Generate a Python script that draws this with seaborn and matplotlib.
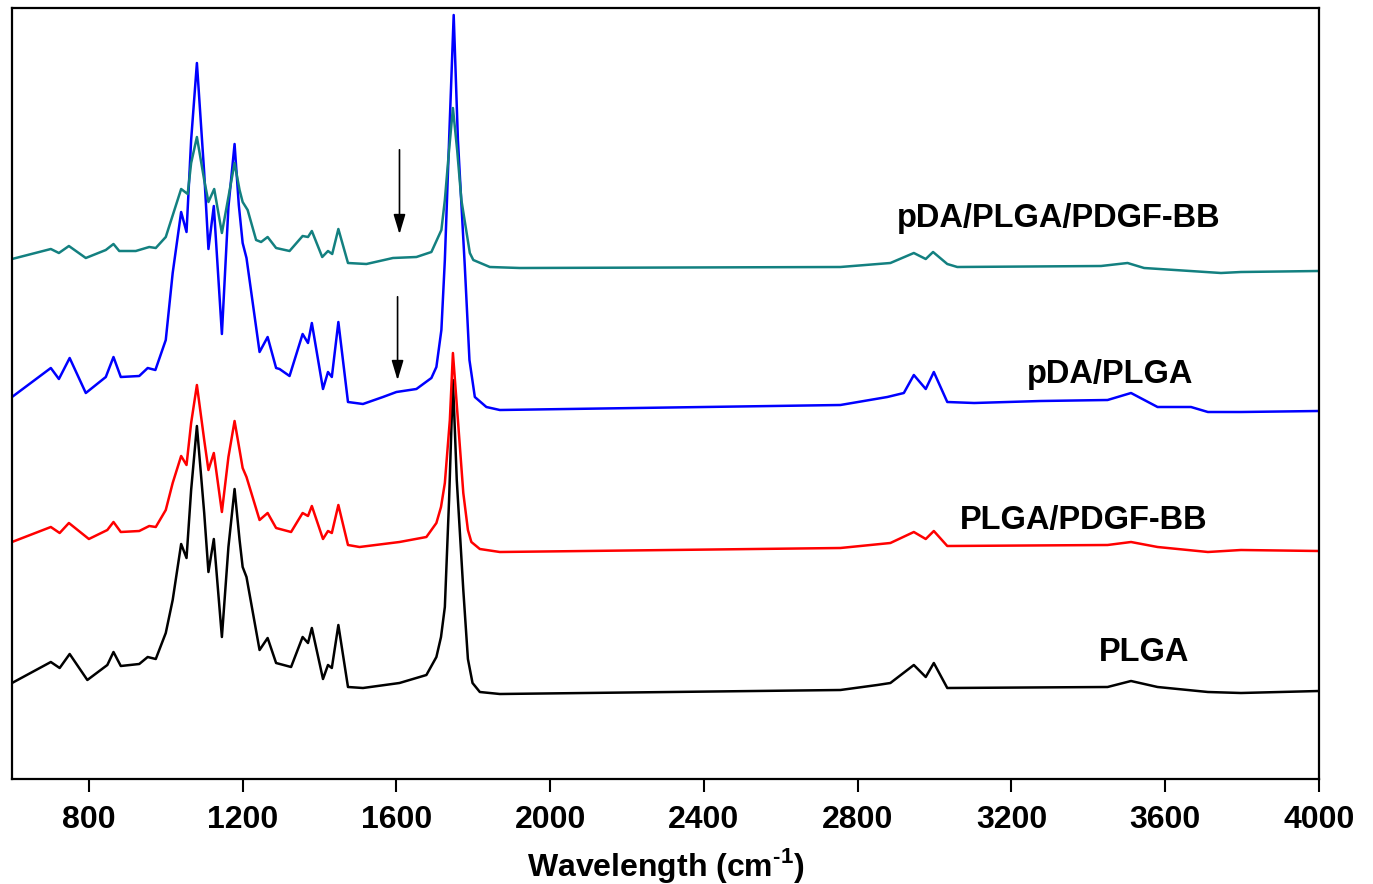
import pandas as pd
import matplotlib
matplotlib.use("Agg")
import matplotlib.pyplot as plt
import seaborn as sns

# FTIR spectra; intensity = arbitrary units (offset stack)
plga_wn = [600, 701, 724, 750, 796, 848, 864, 883, 931, 953, 974, 1000, 1018, 1040, 1054, 1066,
           1081, 1100, 1111, 1125, 1146, 1163, 1179, 1192, 1200, 1210, 1244, 1265, 1287, 1326,
           1356, 1370, 1380, 1409, 1422, 1432, 1449, 1474, 1513, 1608, 1678, 1704, 1716, 1726,
           1737, 1747, 1757, 1774, 1786, 1798, 1817, 1869, 2755, 2851, 2885, 2946, 2977, 2998,
           3033, 3450, 3511, 3580, 3711, 3797, 4000]
plga_au = [96, 117, 111, 125, 99, 114, 127, 113, 115, 122, 120, 146, 179, 235, 221, 289,
           353, 266, 207, 240, 142, 232, 290, 239, 212, 202, 129, 141, 116, 112,
           142, 136, 151, 100, 114, 111, 154, 92, 91, 96, 104, 122, 142, 172,
           279, 399, 299, 189, 120, 96, 87, 85, 89, 94, 96, 114, 102, 116,
           91, 92, 98, 92, 87, 86, 88]

plga_pdgf_wn = [600, 701, 724, 748, 800, 848, 864, 883, 931, 957, 974, 1000, 1018, 1040, 1054, 1066,
                1081, 1100, 1111, 1125, 1146, 1163, 1179, 1192, 1200, 1210, 1244, 1265, 1287, 1326,
                1356, 1370, 1380, 1409, 1422, 1432, 1449, 1474, 1504, 1608, 1678, 1704, 1716, 1726,
                1739, 1747, 1760, 1774, 1786, 1795, 1817, 1869, 2755, 2885, 2946, 2977, 2998, 3033,
                3450, 3511, 3580, 3711, 3797, 4000]
plga_pdgf_au = [237, 252, 246, 256, 240, 249, 257, 247, 248, 253, 252, 269, 296, 323, 314, 356,
                394, 339, 309, 326, 267, 322, 358, 329, 311, 302, 259, 266, 251, 247,
                266, 263, 273, 240, 248, 246, 274, 234, 232, 237, 242, 256, 272, 296,
                359, 426, 359, 286, 249, 237, 230, 227, 231, 236, 247, 240, 248, 233,
                234, 237, 232, 227, 229, 228]

pda_plga_wn = [600, 701, 722, 750, 792, 844, 864, 883, 931, 953, 973, 1000, 1018, 1040, 1054, 1066,
               1081, 1100, 1111, 1125, 1146, 1163, 1179, 1190, 1200, 1210, 1244, 1265, 1287, 1296,
               1322, 1356, 1370, 1380, 1409, 1422, 1432, 1449, 1474, 1513, 1565, 1600, 1652, 1691,
               1704, 1717, 1726, 1738, 1749, 1760, 1778, 1790, 1804, 1834, 1869, 2755, 2877, 2920,
               2946, 2977, 2998, 3033, 3103, 3276, 3450, 3511, 3580, 3667, 3711, 3797, 4000]
pda_plga_au = [382, 411, 400, 421, 386, 402, 422, 402, 403, 411, 409, 439, 506, 567, 547, 639,
               716, 606, 530, 573, 445, 572, 635, 574, 536, 521, 427, 442, 411, 410,
               403, 445, 436, 456, 390, 407, 402, 457, 377, 375, 382, 387, 390, 401,
               412, 449, 519, 649, 764, 639, 512, 419, 382, 372, 369, 374, 382, 386,
               404, 390, 407, 377, 376, 378, 379, 386, 372, 372, 367, 367, 368]

pda_plga_pdgf_wn = [600, 701, 722, 748, 792, 844, 864, 879, 922, 957, 974, 1000, 1040, 1057, 1066,
                    1081, 1100, 1111, 1126, 1146, 1163, 1179, 1192, 1200, 1213, 1235, 1248, 1265,
                    1287, 1322, 1356, 1370, 1380, 1407, 1422, 1433, 1449, 1474, 1522, 1591, 1652,
                    1691, 1717, 1726, 1737, 1747, 1758, 1769, 1791, 1800, 1843, 1921, 2755, 2885,
                    2946, 2977, 2996, 3033, 3059, 3433, 3502, 3545, 3745, 3797, 4000]
pda_plga_pdgf_au = [520, 530, 526, 533, 521, 529, 535, 528, 528, 532, 531, 542, 590, 585, 616,
                    642, 599, 577, 590, 546, 582, 616, 589, 577, 569, 539, 537, 542,
                    531, 528, 543, 542, 548, 522, 528, 525, 550, 516, 515, 521, 522,
                    527, 549, 579, 629, 671, 629, 579, 526, 519, 512, 511, 512, 516,
                    526, 520, 527, 515, 512, 513, 516, 511, 506, 507, 508]

samples = ["PLGA", "PLGA/PDGF-BB", "pDA/PLGA", "pDA/PLGA/PDGF-BB"]
colors = ["#000000", "#ff0000", "#0000ff", "#138080"]

frames = []
for name, wn, au in [("PLGA", plga_wn, plga_au),
                     ("PLGA/PDGF-BB", plga_pdgf_wn, plga_pdgf_au),
                     ("pDA/PLGA", pda_plga_wn, pda_plga_au),
                     ("pDA/PLGA/PDGF-BB", pda_plga_pdgf_wn, pda_plga_pdgf_au)]:
    frames.append(pd.DataFrame({"wn": wn, "au": au, "sample": name}))
df = pd.concat(frames, ignore_index=True)

sns.set_theme(style="white")
plt.rcParams["font.family"] = ["Liberation Sans", "DejaVu Sans"]
plt.rcParams["font.weight"] = "bold"
plt.rcParams["text.color"] = "black"
plt.rcParams["axes.labelcolor"] = "black"
plt.rcParams["mathtext.fontset"] = "custom"
plt.rcParams["mathtext.rm"] = "Liberation Sans:bold"
plt.rcParams["mathtext.bf"] = "Liberation Sans:bold"

fig = plt.figure(figsize=(13.73, 8.84), dpi=100)
ax = fig.add_axes([12 / 1373, 105 / 884, 1307 / 1373, 771 / 884])

sns.lineplot(data=df, x="wn", y="au", hue="sample", hue_order=samples,
             palette=dict(zip(samples, colors)), estimator=None, sort=True,
             linewidth=1.8, legend=False, ax=ax)

ax.set_xlim(600, 4000)
ax.set_ylim(0, 771)
ax.set_xticks([800, 1200, 1600, 2000, 2400, 2800, 3200, 3600, 4000])
ax.set_yticks([])
ax.tick_params(axis="x", direction="out", length=9.5, width=1.5, pad=9,
               labelsize=23, colors="black", bottom=True)
for lbl in ax.get_xticklabels():
    lbl.set_fontweight("bold")
for s in ax.spines.values():
    s.set_visible(True)
    s.set_color("black")
    s.set_linewidth(1.6)

ax.set_xlabel(r"Wavelength (cm$^{\text{-1}}$)", fontsize=23, fontweight="bold",
              color="black", labelpad=8)
ax.set_ylabel("")

# sample labels
label_x = [3544, 3388, 3456, 3323]
label_y = [118, 250, 396, 552]
for name, lx, ly in zip(samples, label_x, label_y):
    ax.text(lx, ly, name, ha="center", va="baseline", fontsize=23.5,
            fontweight="bold", color="black")

# arrows marking the 1600 cm-1 band
for x0, y_top, y_tip in [(1608, 632, 542), (1603, 485, 396)]:
    ax.annotate("", xy=(x0, y_tip), xytext=(x0, y_top),
                arrowprops=dict(arrowstyle="-|>,head_length=1.0,head_width=0.3",
                                color="black", lw=1.2))

fig.savefig("out.png", dpi=100)
